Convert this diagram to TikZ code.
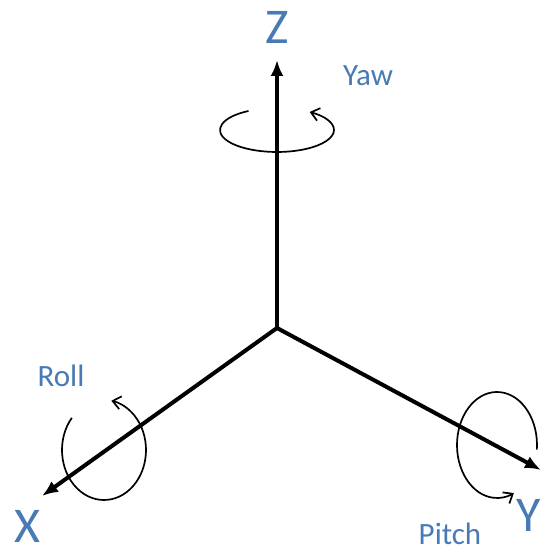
\documentclass[tikz,border=0pt]{standalone}
\usepackage{fontspec}
\setmainfont{Carlito}
\usepackage{xcolor}
\usetikzlibrary{arrows.meta}
\definecolor{labelblue}{RGB}{72,122,180}

\begin{document}
\begin{tikzpicture}[
    x=1pt, y=1pt,
    axis/.style={line width=4pt, -{Latex[length=16pt,width=13pt]}},
    turn/.style={line width=1.7pt, -{Straight Barb[length=8pt,width=13pt]}},
    bigname/.style={text=labelblue, font=\fontsize{50}{50}\selectfont, inner sep=0pt},
    smallname/.style={text=labelblue, font=\fontsize{31}{31}\selectfont, inner sep=0pt}
]
\useasboundingbox (0,0) rectangle (542,554);

\coordinate (origin) at (277,226);
\coordinate (ztip) at (277,494);
\coordinate (xtip) at (42,58);
\coordinate (ytip) at (541,84);

% rotation arrows
\draw[turn] (277,424) ++(120:57 and 22) arc[start angle=120, end angle=415, x radius=57, y radius=22];
\draw[turn] (104,104) ++(140:42 and 50) arc[start angle=140, end angle=440, x radius=42, y radius=50];
\draw[turn] (497,109) ++(-5:40 and 53) arc[start angle=-5, end angle=295, x radius=40, y radius=53];

% axes
\draw[axis] (origin) -- (ztip);
\draw[axis] (origin) -- (xtip);
\draw[axis] (origin) -- (ytip);

\node[bigname] (zname) at (277,527) {Z};
\node[bigname] (xname) at (27,28) {X};
\node[bigname] (yname) at (529,39) {Y};
\node[smallname] (yaw) at (368,478) {Yaw};
\node[smallname] (roll) at (61,178) {Roll};
\node[smallname] (pitch) at (450,20) {Pitch};
\end{tikzpicture}
\end{document}
